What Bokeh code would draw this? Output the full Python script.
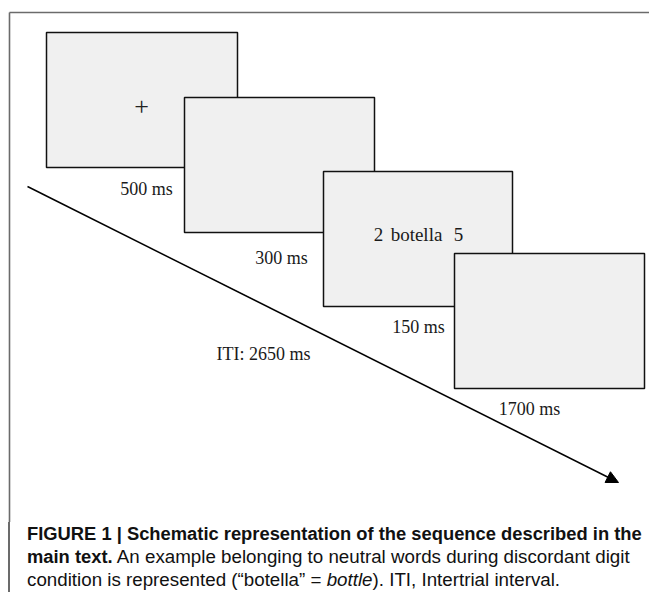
from bokeh.plotting import figure
from bokeh.models import Range1d, Arrow, NormalHead, ColumnDataSource, Div
from bokeh.layouts import column
from bokeh.core.properties import value
from bokeh.embed import file_html
from bokeh.resources import INLINE

# ---- content (data) ----
screen_names = ["fixation", "blank", "stimulus", "blank_response"]
screen_content = ["+", "", "2  botella  5", ""]
stimulus_parts = ["2", "botella", "5"]
durations_ms = [500, 300, 150, 1700]
duration_labels = [f"{d} ms" for d in durations_ms]
iti_ms = 2650
iti_label = f"ITI: {iti_ms} ms"
caption_bold = "FIGURE 1 | Schematic representation of the sequence described in the"
caption_bold2 = "main text."
caption_line2 = " An example belonging to neutral words during discordant digit"
caption_line3a = "condition is represented (\u201cbotella\u201d = "
caption_line3b = "bottle"
caption_line3c = "). ITI, Intertrial interval."

# ---- layout geometry (page pixel coordinates) ----
box_left = [46, 184, 323, 454]
box_right = [237, 374, 512, 644]
box_top = [32, 97, 171, 253]
box_bottom = [167, 232, 306, 388]
content_x = [141, 279, 418, 549]
content_y = [106, 165, 234, 320]
stim_offsets = [-40, -2, 40]
label_x = [146, 281, 418, 529]
label_y = [188, 257, 326, 408]
iti_x, iti_y = 263, 353
arrow_start = (27, 186)
arrow_end = (618, 482)

FIG_W, FIG_H = 649, 522
TOTAL_H = 592
p = figure(width=FIG_W, height=FIG_H,
           x_range=Range1d(0, FIG_W), y_range=Range1d(FIG_H, 0),
           output_backend="svg", toolbar_location=None, min_border=0,
           x_axis_location=None, y_axis_location=None)
p.grid.visible = False
p.outline_line_color = None
p.background_fill_color = "white"
p.border_fill_color = "white"

# outer frame
p.line([9, FIG_W], [12, 12], line_color="#6b6b6b", line_width=1.6)
p.line([9, 9], [12, FIG_H], line_color="#6b6b6b", line_width=1.6)

# screens
src = ColumnDataSource(dict(left=box_left, right=box_right, top=box_top, bottom=box_bottom,
                            name=screen_names))
p.quad(left="left", right="right", top="top", bottom="bottom", source=src,
       fill_color="#f0f0f0", line_color="#111111", line_width=1.5)

# fixation cross
p.text(x=[content_x[0]], y=[content_y[0]], text=[screen_content[0]],
       text_font=value("Liberation Serif"), text_font_size="26px",
       text_align="center", text_baseline="middle", text_color="#222222")
# stimulus
for part, off in zip(stimulus_parts, stim_offsets):
    p.text(x=[content_x[2]], y=[content_y[2]], text=[part],
           text_font=value("Liberation Serif"), text_font_size="19px",
           text_align="center", text_baseline="middle", text_color="#1a1a1a",
           x_offset=off)

# duration labels
p.text(x=label_x, y=label_y, text=duration_labels,
       text_font=value("Liberation Serif"), text_font_size="18px",
       text_align="center", text_baseline="middle", text_color="#1a1a1a")
p.text(x=[iti_x], y=[iti_y], text=[iti_label],
       text_font=value("Liberation Serif"), text_font_size="18px",
       text_align="center", text_baseline="middle", text_color="#1a1a1a")

# time arrow
p.add_layout(Arrow(end=NormalHead(size=12, fill_color="black", line_color="black"),
                   x_start=arrow_start[0], y_start=arrow_start[1],
                   x_end=arrow_end[0], y_end=arrow_end[1],
                   line_width=1.5, line_color="black"))

bold_style = "font-weight:bold;font-size:18.35px"
caption_html = (f"<span style='{bold_style}'>{caption_bold}</span><br>"
                f"<span style='{bold_style}'>{caption_bold2}</span>{caption_line2}<br>"
                f"{caption_line3a}<i>{caption_line3b}</i>{caption_line3c}")
div = Div(text=caption_html, width=FIG_W, height=TOTAL_H - FIG_H,
          styles={"font-family": "'Liberation Sans', Arial, sans-serif",
                  "font-size": "18.75px", "line-height": "23px", "color": "#111111",
                  "background": "linear-gradient(to right, #ffffff 8.2px, #6b6b6b 8.2px, "
                                "#6b6b6b 9.8px, #ffffff 9.8px)",
                  "padding-left": "27px",
                  "white-space": "nowrap", "box-sizing": "border-box",
                  "margin": "0"})

layout = column(p, div, spacing=0)
open("out.html", "w").write(file_html(layout, INLINE))
